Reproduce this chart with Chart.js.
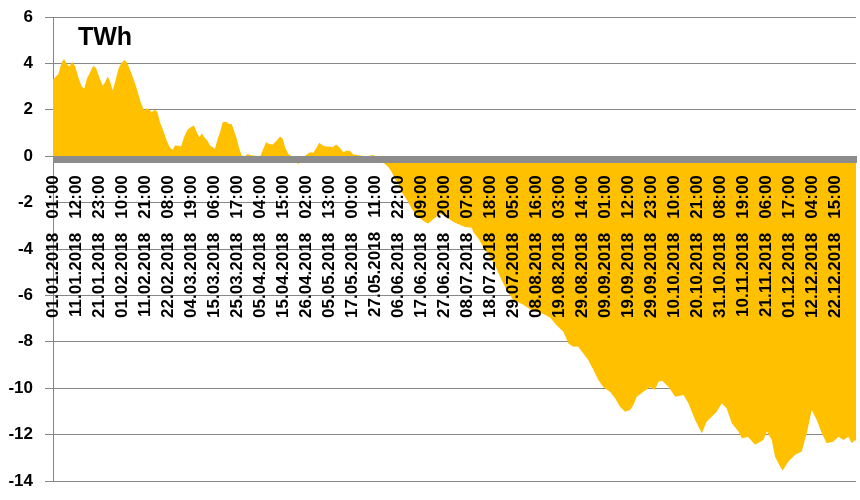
<!DOCTYPE html>
<html>
<head>
<meta charset="utf-8">
<script src="https://cdn.jsdelivr.net/npm/chart.js@4/dist/chart.umd.min.js"></script>
<style>
    body { margin: 0; background: #ffffff; }
    #balance_chart { display: block; }
</style>
</head>
<body>
<canvas id="balance_chart" width="860" height="500"></canvas>
<script>
// hour of the year (0 = 01.01.2018 01:00) and the cumulative balance in TWh
const hours = [
    0, 58, 95, 120, 149, 178, 207, 240, 276, 313, 342, 368, 404, 440, 469, 505,
    542, 567, 597, 622, 651, 676, 713, 749, 785, 815, 851, 884, 920, 957, 993, 1022,
    1051, 1077, 1113, 1138, 1167, 1203, 1240, 1276, 1306, 1331, 1367, 1396, 1429, 1465, 1502, 1538,
    1568, 1596, 1622, 1651, 1683, 1713, 1742, 1767, 1792, 1822, 1851, 1887, 1923, 1949, 1975, 2004,
    2032, 2058, 2095, 2120, 2149, 2236, 2266, 2294, 2324, 2360, 2397, 2440, 2476, 2506, 2531, 2567,
    2604, 2676, 2731, 2768, 2804, 2840, 2877, 2905, 2942, 2978, 3014, 3051, 3087, 3124, 3167, 3204,
    3240, 3276, 3349, 3422, 3494, 3567, 3611, 3658, 3695, 3731, 3767, 3804, 3840, 3876, 3913, 3949,
    3986, 4022, 4058, 4094, 4131, 4186, 4222, 4284, 4367, 4495, 4568, 4585, 4640, 4694, 4767, 4822,
    4876, 4949, 5021, 5131, 5204, 5277, 5349, 5422, 5495, 5567, 5622, 5676, 5727, 5785, 5840, 5894,
    5949, 6003, 6076, 6131, 6185, 6240, 6295, 6331, 6367, 6440, 6513, 6567, 6604, 6644, 6713, 6786,
    6877, 6931, 7004, 7077, 7131, 7204, 7240, 7295, 7349, 7404, 7477, 7513, 7582, 7658, 7749, 7786,
    7840, 7876, 7931, 7960, 8022, 8095, 8167, 8222, 8276, 8331, 8386, 8440, 8513, 8567, 8622, 8676,
    8713, 8749, 8759
];
const balance = [
    3.3, 3.54, 4.04, 4.19, 4.0, 3.86, 4.06, 3.9, 3.4, 3.0, 2.92, 3.33, 3.61, 3.9, 3.8, 3.4,
    3.04, 3.18, 3.43, 3.23, 2.83, 3.18, 3.76, 4.04, 4.15, 3.97, 3.61, 3.26, 2.83, 2.32, 1.97, 2.07,
    2.0, 1.9, 2.0, 1.9, 1.46, 1.1, 0.68, 0.36, 0.28, 0.46, 0.45, 0.42, 0.82, 1.13, 1.25, 1.32,
    1.03, 0.82, 0.99, 0.82, 0.68, 0.46, 0.39, 0.32, 0.7, 1.03, 1.46, 1.49, 1.39, 1.39, 1.1, 0.75,
    0.32, 0.03, 0.0, 0.1, 0.05, 0.0, 0.03, 0.32, 0.6, 0.53, 0.5, 0.68, 0.85, 0.75, 0.39, 0.1,
    0.0, -0.35, -0.05, 0.07, 0.17, 0.15, 0.39, 0.58, 0.46, 0.42, 0.42, 0.39, 0.5, 0.39, 0.17, 0.25,
    0.22, 0.07, 0.03, 0.0, 0.05, -0.1, -0.3, -0.47, -0.69, -0.97, -1.19, -1.55, -1.76, -1.98, -2.26, -2.48,
    -2.62, -2.73, -2.84, -2.9, -2.77, -2.6, -2.48, -2.6, -2.84, -3.05, -3.08, -3.27, -3.55, -3.91, -4.34, -4.7,
    -5.2, -5.78, -6.2, -6.4, -6.6, -6.71, -6.8, -6.95, -7.3, -7.57, -8.07, -8.21, -8.2, -8.5, -8.79, -9.2,
    -9.65, -9.96, -10.15, -10.43, -10.8, -11.01, -10.94, -10.72, -10.37, -10.15, -9.96, -10.08, -9.72, -9.68, -9.94, -10.37,
    -10.29, -10.65, -11.37, -11.94, -11.44, -11.15, -11.01, -10.65, -10.87, -11.51, -11.87, -12.16, -12.1, -12.44, -12.23, -11.87,
    -12.23, -12.95, -13.38, -13.55, -13.16, -12.87, -12.73, -11.94, -10.94, -11.37, -11.94, -12.37, -12.3, -12.09, -12.23, -12.09,
    -12.37, -12.23, -12.3
];

// category labels, one every 251 hours
const tickLabels = [
    "01.01.2018   01:00", "11.01.2018   12:00", "21.01.2018   23:00", "01.02.2018   10:00",
    "11.02.2018   21:00", "22.02.2018   08:00", "04.03.2018   19:00", "15.03.2018   06:00",
    "25.03.2018   17:00", "05.04.2018   04:00", "15.04.2018   15:00", "26.04.2018   02:00",
    "05.05.2018   13:00", "17.05.2018   00:00", "27.05.2018   11:00", "06.06.2018   22:00",
    "17.06.2018   09:00", "27.06.2018   20:00", "08.07.2018   07:00", "18.07.2018   18:00",
    "29.07.2018   05:00", "08.08.2018   16:00", "19.08.2018   03:00", "29.08.2018   14:00",
    "09.09.2018   01:00", "19.09.2018   12:00", "29.09.2018   23:00", "10.10.2018   10:00",
    "20.10.2018   21:00", "31.10.2018   08:00", "10.11.2018   19:00", "21.11.2018   06:00",
    "01.12.2018   17:00", "12.12.2018   04:00", "22.12.2018   15:00"
];
const labelStep = 251;
const lastHour = 8759;
const yTicks = [6, 4, 2, 0, -2, -4, -6, -8, -10, -12, -14];

const FONT = "'Liberation Sans', Arial, sans-serif";
const GRID = "#878787";

// thick grey axis band under the zero line + the unit label
const overlayPlugin = {
    id: "overlay",
    afterDatasetsDraw(chart) {
        const ctx = chart.ctx;
        const area = chart.chartArea;
        const y0 = Math.round(chart.scales.y.getPixelForValue(0));
        ctx.save();
        ctx.fillStyle = "#8c8c8c";
        ctx.fillRect(area.left, y0, area.right - area.left + 1, 7);
        ctx.fillStyle = "#000000";
        ctx.font = "bold 25px " + FONT;
        ctx.textBaseline = "alphabetic";
        ctx.fillText("TWh", 78, 45);
        ctx.restore();
    },
};

const ctx = document.getElementById("balance_chart").getContext("2d");
new Chart(ctx, {
    type: "line",
    data: {
        datasets: [
            {
                data: hours.map((h, i) => ({x: h, y: balance[i]})),
                fill: "origin",
                backgroundColor: "#FFC000",
                borderColor: "#FFC000",
                borderWidth: 0,
                pointRadius: 0,
                tension: 0,
            },
        ],
    },
    options: {
        responsive: false,
        animation: false,
        layout: {
            padding: {top: 17, right: 4, bottom: 19, left: 0},
        },
        plugins: {
            legend: {display: false},
            tooltip: {enabled: false},
        },
        scales: {
            x: {
                type: "linear",
                position: {y: 0},
                min: 0,
                max: lastHour,
                bounds: "data",
                grid: {display: false, drawTicks: false},
                border: {display: false},
                afterBuildTicks: (scale) => {
                    scale.ticks = tickLabels.map((l, i) => ({value: i * labelStep}));
                },
                afterFit: (scale) => {
                    scale.paddingLeft = 0;
                    scale.paddingRight = 0;
                },
                ticks: {
                    z: 1, // labels sit on top of the filled area
                    autoSkip: false,
                    maxRotation: 90,
                    minRotation: 90,
                    padding: 19,
                    color: "#000000",
                    font: {family: FONT, size: 17, weight: "bold"},
                    callback: (value, index) => tickLabels[index],
                },
            },
            y: {
                min: -14,
                max: 6,
                afterBuildTicks: (scale) => {
                    scale.ticks = yTicks.map((v) => ({value: v}));
                },
                afterFit: (scale) => {
                    scale.width = 53;
                    scale.paddingTop = 0;
                    scale.paddingBottom = 0;
                },
                grid: {color: GRID, lineWidth: 1, tickLength: 8},
                border: {color: GRID, width: 1},
                ticks: {
                    padding: 12,
                    color: "#000000",
                    font: {family: FONT, size: 17, weight: "bold"},
                },
            },
        },
    },
    plugins: [overlayPlugin],
});
</script>
</body>
</html>
